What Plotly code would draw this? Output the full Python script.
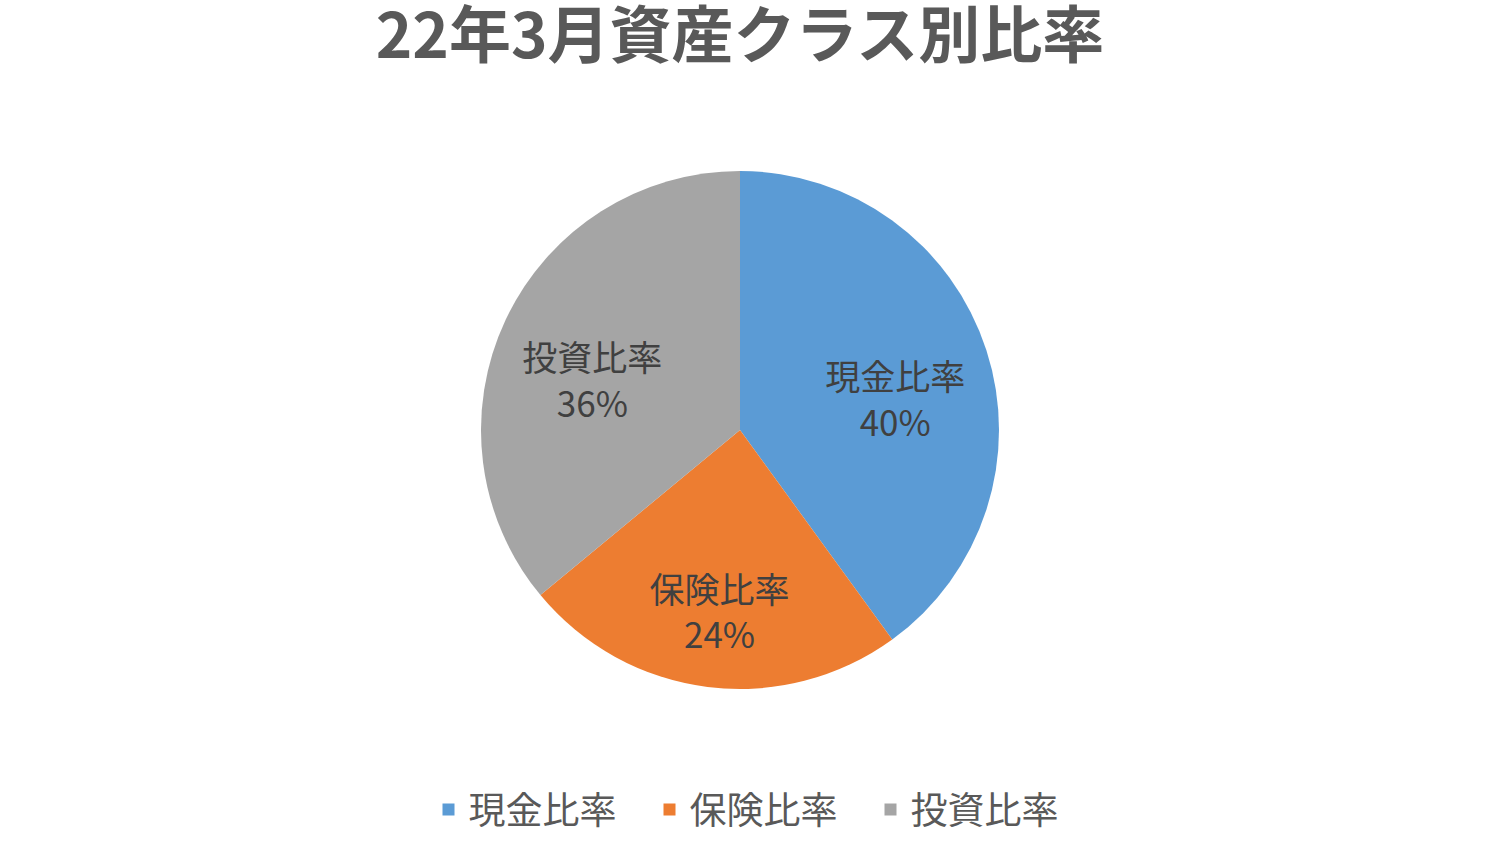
import plotly.graph_objects as go

labels = ["現金比率", "保険比率", "投資比率"]
values = [40, 24, 36]
colors = ["#5B9BD5", "#ED7D31", "#A5A5A5"]
title_text = "22年3月資産クラス別比率"

FONT = "Noto Sans CJK JP"
dom = dict(x=[(740 - 259) / 1500, (740 + 259) / 1500],
           y=[1 - 689 / 843, 1 - 171 / 843])
shift = 18 / 843
dom_text = dict(x=dom["x"], y=[dom["y"][0] - shift, dom["y"][1] - shift])

fig = go.Figure()
# filled pie
fig.add_trace(go.Pie(
    labels=labels, values=values, sort=False, direction="clockwise", rotation=0,
    marker=dict(colors=colors, line=dict(color="white", width=0)),
    textposition="none", domain=dom, hoverinfo="label+percent",
))
# label layer (transparent ring) so labels sit further out like the reference
fig.add_trace(go.Pie(
    labels=labels, values=values, sort=False, direction="clockwise", rotation=0,
    hole=0.26,
    marker=dict(colors=["rgba(0,0,0,0)"] * 3, line=dict(width=0)),
    textposition="inside", insidetextorientation="horizontal",
    texttemplate="%{label}<br>%{percent:.0%}",
    textfont=dict(family=FONT, size=35, color="#404040"),
    domain=dom_text, showlegend=False, hoverinfo="skip",
))

fig.update_layout(
    width=1500, height=843,
    margin=dict(l=0, r=0, t=0, b=0),
    paper_bgcolor="white",
    plot_bgcolor="white",
    title=dict(text="<b>" + title_text + "</b>", x=740 / 1500, xanchor="center",
               y=1 - 36 / 843, yanchor="middle",
               font=dict(family=FONT, size=62, color="#595959")),
    legend=dict(orientation="h", x=760 / 1500, xanchor="center",
                y=1 - 810 / 843, yanchor="middle",
                font=dict(family=FONT, size=37, color="#595959"),
                entrywidth=176, entrywidthmode="pixels",
                itemsizing="constant", traceorder="normal"),
)

fig.write_html("out.html")
